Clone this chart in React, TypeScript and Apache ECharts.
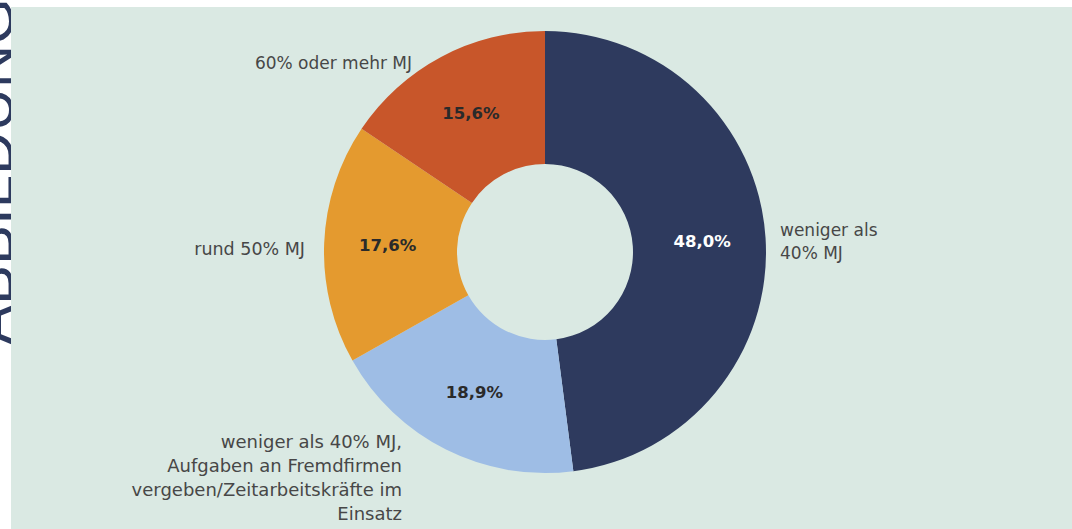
import React, { useEffect, useRef } from "react";
import * as echarts from "echarts";

// ---- data ----
const categories: string[] = [
  "weniger als\n40% MJ",
  "weniger als 40% MJ,\nAufgaben an Fremdfirmen\nvergeben/Zeitarbeitskräfte im\nEinsatz",
  "rund 50% MJ",
  "60% oder mehr MJ",
];
const values: number[] = [48.0, 18.9, 17.6, 15.6];

// ---- styles ----
const sliceColors = ["#2e3a5e", "#9ebde5", "#e49a2f", "#c8562a"];
const pctColors = ["#ffffff", "#2a2a2a", "#2a2a2a", "#2a2a2a"];
const nameLabelAnchors = [
  { x: 780, y: 241, align: "left" },
  { x: 402, y: 477, align: "right" },
  { x: 305, y: 249, align: "right" },
  { x: 412, y: 63, align: "right" },
];
const nameLineHeights = [23, 24, 22, 22];
const nameFontSizes = [17, 18, 17.5, 17];

const fmtPct = (v: number) => v.toFixed(1).replace(".", ",") + "%";

export default function App() {
  const ref = useRef<HTMLDivElement>(null);
  useEffect(() => {
    if (!ref.current) return;
    const chart = echarts.init(ref.current, undefined, { renderer: "svg" });
    const data = categories.map((name, i) => ({
      name,
      value: values[i],
      itemStyle: { color: sliceColors[i] },
      label: { color: pctColors[i] },
    }));
    const nameData = categories.map((name, i) => ({
      name,
      value: values[i],
      label: { lineHeight: nameLineHeights[i], fontSize: nameFontSizes[i] },
    }));
    chart.setOption({
      animation: false,
      backgroundColor: "#ffffff",
      graphic: [
        {
          type: "text",
          z: 0,
          x: 22,
          y: 345,
          rotation: Math.PI / 2,
          style: {
            text: "ABBILDUNG",
            fill: "#2d3a5e",
            font: "normal 60px 'Liberation Sans', Arial, sans-serif",
            textAlign: "left",
            textVerticalAlign: "bottom",
          },
        },
        {
          type: "rect",
          z: 1,
          shape: { x: 11, y: 7, width: 1072, height: 529 },
          style: { fill: "#dae9e3" },
        },
      ],
      series: [
        {
          type: "pie",
          center: [545, 252],
          radius: [88, 221],
          startAngle: 90,
          clockwise: true,
          avoidLabelOverlap: false,
          silent: true,
          emphasis: { disabled: true },
          itemStyle: { borderWidth: 0 },
          label: {
            show: true,
            position: "inside",
            formatter: (p: any) => fmtPct(p.value),
            fontFamily: "'DejaVu Sans', sans-serif",
            fontWeight: "bold",
            fontSize: 16.5,
          },
          labelLine: { show: false },
          data,
        },
        {
          type: "pie",
          center: [545, 252],
          radius: [88, 221],
          startAngle: 90,
          clockwise: true,
          avoidLabelOverlap: false,
          silent: true,
          emphasis: { disabled: true },
          itemStyle: { color: "rgba(0,0,0,0)", borderWidth: 0 },
          label: {
            show: true,
            position: "outside",
            formatter: (p: any) => p.name,
            fontFamily: "'DejaVu Sans', sans-serif",
            fontSize: 17,
            color: "#474747",
          },
          labelLine: { show: false },
          labelLayout: (params: any) => {
            const a = nameLabelAnchors[params.dataIndex];
            return { x: a.x, y: a.y, align: a.align, verticalAlign: "middle" };
          },
          data: nameData,
        },
      ],
    });
    return () => chart.dispose();
  }, []);
  return (
    <div
      ref={ref}
      style={{ position: "fixed", left: 0, top: 0, width: 1072, height: 529 }}
    />
  );
}
